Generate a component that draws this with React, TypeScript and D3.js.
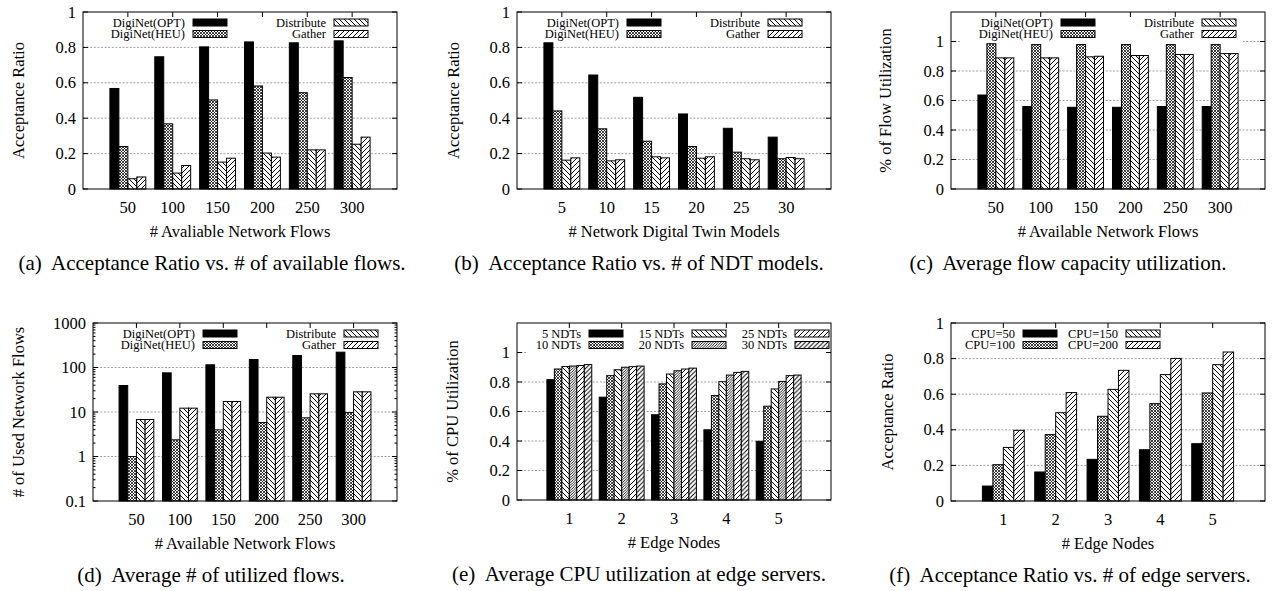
import React from "react";
import * as d3 from "d3";

const FONT = "'Liberation Serif', 'Times New Roman', Times, serif";

// categories
const flowCats = ["50", "100", "150", "200", "250", "300"];
const ndtCats = ["5", "10", "15", "20", "25", "30"];
const edgeCats = ["1", "2", "3", "4", "5"];

// (a) acceptance ratio vs. available flows
const accFlowOpt = [0.568, 0.747, 0.803, 0.831, 0.826, 0.837];
const accFlowHeu = [0.24, 0.368, 0.503, 0.582, 0.544, 0.63];
const accFlowDist = [0.058, 0.09, 0.152, 0.203, 0.221, 0.253];
const accFlowGather = [0.068, 0.133, 0.174, 0.18, 0.221, 0.293];

// (b) acceptance ratio vs. NDT models
const accNdtOpt = [0.826, 0.644, 0.518, 0.424, 0.343, 0.293];
const accNdtHeu = [0.441, 0.34, 0.27, 0.24, 0.208, 0.171];
const accNdtDist = [0.163, 0.159, 0.182, 0.174, 0.171, 0.178];
const accNdtGather = [0.176, 0.165, 0.176, 0.182, 0.165, 0.171];

// (c) flow utilization
const utilOpt = [0.637, 0.559, 0.554, 0.554, 0.559, 0.559];
const utilHeu = [0.985, 0.979, 0.979, 0.979, 0.979, 0.979];
const utilDist = [0.889, 0.889, 0.896, 0.905, 0.912, 0.918];
const utilGather = [0.889, 0.889, 0.9, 0.905, 0.912, 0.918];

// (d) used network flows (log)
const usedOpt = [39.4, 75.9, 115, 151, 186, 221];
const usedHeu = [1.0, 2.37, 3.97, 5.8, 7.4, 9.7];
const usedDist = [6.78, 12.2, 17.2, 21.5, 25.6, 28.4];
const usedGather = [6.78, 12.2, 17.2, 21.5, 25.6, 28.4];

// (e) cpu utilization
const cpuNdt5 = [0.816, 0.697, 0.578, 0.476, 0.398];
const cpuNdt10 = [0.888, 0.843, 0.787, 0.708, 0.636];
const cpuNdt15 = [0.905, 0.883, 0.854, 0.802, 0.753];
const cpuNdt20 = [0.908, 0.9, 0.876, 0.847, 0.804];
const cpuNdt25 = [0.912, 0.904, 0.888, 0.865, 0.843];
const cpuNdt30 = [0.918, 0.908, 0.894, 0.872, 0.847];

// (f) acceptance ratio vs. edge servers
const accCpu50 = [0.084, 0.163, 0.234, 0.288, 0.322];
const accCpu100 = [0.204, 0.373, 0.476, 0.547, 0.607];
const accCpu150 = [0.301, 0.496, 0.627, 0.71, 0.766];
const accCpu200 = [0.397, 0.609, 0.734, 0.801, 0.837];

const linTicks = [0, 0.2, 0.4, 0.6, 0.8, 1];
const logTicks = [0.1, 1, 10, 100, 1000];

const methodNames = ["DigiNet(OPT)", "DigiNet(HEU)", "Distribute", "Gather"];
const ndtNames = ["5 NDTs", "10 NDTs", "15 NDTs", "20 NDTs", "25 NDTs", "30 NDTs"];
const cpuNames = ["CPU=50", "CPU=100", "CPU=150", "CPU=200"];

const FILL = {
  solid: "#000",
  cross: "url(#pCross)",
  back: "url(#pBack)",
  fwd: "url(#pFwd)",
  fine: "url(#pFine)",
  fwd2: "url(#pFwd2)",
};

const fmt = (v) => (v >= 1 || v === 0 ? String(v) : String(v));

function Panel({ cfg }) {
  const { l, r, t, b, cats, series, log, yMax, yLabel, xLabel, caption, capX, leg } = cfg;
  const x = d3.scaleLinear().domain([-1, cats.length]).range([l, r]);
  const y = log
    ? d3.scaleLog().domain([0.1, 1000]).range([b, t])
    : d3.scaleLinear().domain([0, yMax]).range([b, t]);
  const ticks = log ? logTicks : linTicks;
  const grid = ticks.filter((v) => (log ? v > 0.1 && v < 1000 : v > 0 && y(v) > t + 1));
  const step = x(1) - x(0);
  const k = series.length;
  const bw = step / (k + 1);
  const minor = [];
  if (log) {
    for (let d = 0.1; d < 1000; d *= 10) {
      for (let m = 2; m <= 9; m++) minor.push(d * m);
    }
  }
  const nCols = Math.ceil(k / 2);
  const legRight = l + leg.base + (nCols - 1) * leg.colW + 42;
  const baseY = log ? y(0.1) : y(0);

  return (
    <g>
      {/* grid */}
      {grid.map((v) => (
        <line key={"g" + v} x1={l} x2={r} y1={y(v)} y2={y(v)} stroke="#8a8a8a" strokeWidth={0.8} strokeDasharray="2,1.6" />
      ))}
      {/* legend background hides grid */}
      <rect x={l + 9} y={t + 1} width={Math.min(r - 1, legRight + 7) - (l + 9)} height={31} fill="#fff" />
      {/* bars */}
      {series.map((s, j) =>
        s.values.map((v, i) => {
          const x0 = x(i) - (k * bw) / 2 + j * bw;
          return (
            <rect key={s.name + i} x={x0} y={y(v)} width={bw} height={baseY - y(v)} fill={s.fill} stroke="#000" strokeWidth={1} />
          );
        })
      )}
      {/* ticks */}
      {ticks.map((v) => (
        <g key={"t" + v}>
          <line x1={l} x2={l + 5} y1={y(v)} y2={y(v)} stroke="#000" />
          <line x1={r - 5} x2={r} y1={y(v)} y2={y(v)} stroke="#000" />
          <text x={l - 7} y={y(v) + 5.5} textAnchor="end" fontSize={16.5} fontFamily={FONT}>
            {fmt(v)}
          </text>
        </g>
      ))}
      {minor.map((v) => (
        <g key={"m" + v}>
          <line x1={l} x2={l + 2.5} y1={y(v)} y2={y(v)} stroke="#000" />
          <line x1={r - 2.5} x2={r} y1={y(v)} y2={y(v)} stroke="#000" />
        </g>
      ))}
      {cats.map((c, i) => (
        <g key={"x" + c}>
          <line x1={x(i)} x2={x(i)} y1={b} y2={b - 5} stroke="#000" />
          <line x1={x(i)} x2={x(i)} y1={t} y2={t + 5} stroke="#000" />
          <text x={x(i)} y={b + 24} textAnchor="middle" fontSize={16.5} fontFamily={FONT}>
            {c}
          </text>
        </g>
      ))}
      {/* legend */}
      {series.map((s, j) => {
        const col = Math.floor(j / 2);
        const row = j % 2;
        const tx = l + leg.base + col * leg.colW;
        const ry = t + 10.5 + row * 11.5;
        return (
          <g key={"l" + s.name}>
            <text x={tx} y={ry + 4.3} textAnchor="end" fontSize={12.5} fontFamily={FONT}>
              {s.name}
            </text>
            <rect x={tx + 8} y={ry - 3.5} width={34} height={7} fill={s.fill} stroke="#000" strokeWidth={1} />
          </g>
        );
      })}
      {/* frame */}
      <rect x={l} y={t} width={r - l} height={b - t} fill="none" stroke="#000" strokeWidth={1} />
      {/* labels */}
      <text x={(l + r) / 2} y={b + 48} textAnchor="middle" fontSize={16.5} fontFamily={FONT}>
        {xLabel}
      </text>
      <text
        transform={`translate(${l - cfg.yLabOff},${(t + b) / 2}) rotate(-90)`}
        dy="0.35em"
        textAnchor="middle"
        fontSize={16.5}
        fontFamily={FONT}
      >
        {yLabel}
      </text>
      <text x={capX} y={b + 81} textAnchor="middle" fontSize={21} fontFamily={FONT} style={{ whiteSpace: "pre" }}>
        {caption}
      </text>
    </g>
  );
}

const mk = (names, vals, fills) => names.map((n, i) => ({ name: n, values: vals[i], fill: fills[i] }));
const fourFills = [FILL.solid, FILL.cross, FILL.back, FILL.fwd];

const legWide = { base: 102, colW: 141 };
const legNarrow = { base: 64, colW: 103 };

const panels = [
  {
    l: 83, r: 397, t: 12, b: 189, cats: flowCats, yMax: 1, yLabOff: 65, leg: legWide, capX: 212,
    series: mk(methodNames, [accFlowOpt, accFlowHeu, accFlowDist, accFlowGather], fourFills),
    yLabel: "Acceptance Ratio", xLabel: "# Avaliable Network Flows",
    caption: "(a)\u00a0 Acceptance Ratio vs. # of available flows.",
  },
  {
    l: 517, r: 831, t: 12, b: 189, cats: ndtCats, yMax: 1, yLabOff: 64, leg: legWide, capX: 639,
    series: mk(methodNames, [accNdtOpt, accNdtHeu, accNdtDist, accNdtGather], fourFills),
    yLabel: "Acceptance Ratio", xLabel: "# Network Digital Twin Models",
    caption: "(b)\u00a0 Acceptance Ratio vs. # of NDT models.",
  },
  {
    l: 951, r: 1265, t: 12, b: 189, cats: flowCats, yMax: 1.2, yLabOff: 66, leg: legWide, capX: 1068,
    series: mk(methodNames, [utilOpt, utilHeu, utilDist, utilGather], fourFills),
    yLabel: "% of Flow Utilization", xLabel: "# Available Network Flows",
    caption: "(c)\u00a0 Average flow capacity utilization.",
  },
  {
    l: 93, r: 397, t: 323, b: 501, cats: flowCats, log: true, yLabOff: 75, leg: legWide, capX: 211,
    series: mk(methodNames, [usedOpt, usedHeu, usedDist, usedGather], fourFills),
    yLabel: "# of Used Network Flows", xLabel: "# Available Network Flows",
    caption: "(d)\u00a0 Average # of utilized flows.",
  },
  {
    l: 517, r: 831, t: 323, b: 500, cats: edgeCats, yMax: 1.2, yLabOff: 65, leg: legNarrow, capX: 639,
    series: mk(ndtNames, [cpuNdt5, cpuNdt10, cpuNdt15, cpuNdt20, cpuNdt25, cpuNdt30],
      [FILL.solid, FILL.cross, FILL.back, FILL.fine, FILL.fwd, FILL.fwd2]),
    yLabel: "% of CPU Utilization", xLabel: "# Edge Nodes",
    caption: "(e)\u00a0 Average CPU utilization at edge servers.",
  },
  {
    l: 951, r: 1265, t: 323, b: 501, cats: edgeCats, yMax: 1, yLabOff: 64, leg: legNarrow, capX: 1070,
    series: mk(cpuNames, [accCpu50, accCpu100, accCpu150, accCpu200], fourFills),
    yLabel: "Acceptance Ratio", xLabel: "# Edge Nodes",
    caption: "(f)\u00a0 Acceptance Ratio vs. # of edge servers.",
  },
];

export default function App() {
  return (
    <svg width={1278} height={591} style={{ position: "absolute", left: 0, top: 0, background: "#fff" }}>
      <defs>
        <pattern id="pCross" width={3} height={3} patternUnits="userSpaceOnUse">
          <rect width={3} height={3} fill="#fff" />
          <path d="M0,0L3,3M3,0L0,3" stroke="#000" strokeWidth={0.75} />
        </pattern>
        <pattern id="pFine" width={2.6} height={2.6} patternUnits="userSpaceOnUse">
          <rect width={2.6} height={2.6} fill="#fff" />
          <path d="M0,2.6L2.6,0M-1,1L1,-1M1.6,3.6L3.6,1.6" stroke="#000" strokeWidth={0.85} />
        </pattern>
        <pattern id="pBack" width={5} height={5} patternUnits="userSpaceOnUse">
          <rect width={5} height={5} fill="#fff" />
          <path d="M0,0L5,5M-1,4L1,6M4,-1L6,1" stroke="#000" strokeWidth={1} />
        </pattern>
        <pattern id="pFwd" width={5} height={5} patternUnits="userSpaceOnUse">
          <rect width={5} height={5} fill="#fff" />
          <path d="M0,5L5,0M-1,1L1,-1M4,6L6,4" stroke="#000" strokeWidth={1} />
        </pattern>
        <pattern id="pFwd2" width={4.5} height={4.5} patternUnits="userSpaceOnUse">
          <rect width={4.5} height={4.5} fill="#fff" />
          <path d="M0,4.5L4.5,0M-1,1L1,-1M3.5,5.5L5.5,3.5" stroke="#000" strokeWidth={1} />
        </pattern>
      </defs>
      {panels.map((p, i) => (
        <Panel key={i} cfg={p} />
      ))}
    </svg>
  );
}
